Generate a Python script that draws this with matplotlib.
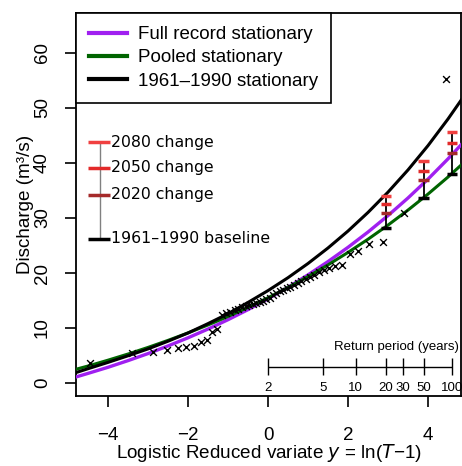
"""
Logistic growth curve plot: stationary fits, annual maxima and climate change bars.
"""
import matplotlib
matplotlib.use("Agg")
import matplotlib.pyplot as plt

# reduced variate grid used for the fitted curves
curve_y = [-4.8, -4.5, -4.0, -3.5, -3.0, -2.5, -2.0, -1.5, -1.0, -0.5, 0.0,
           0.5, 1.0, 1.5, 2.0, 2.5, 3.0, 3.5, 4.0, 4.5, 4.85]
full_record = [1.1, 1.75, 2.86, 4.07, 5.35, 6.74, 8.22, 9.81, 11.51, 13.34, 15.3,
               17.4, 19.66, 22.08, 24.67, 27.45, 30.44, 33.64, 37.07, 40.75, 43.49]
pooled = [2.5, 3.09, 4.15, 5.27, 6.47, 7.75, 9.11, 10.56, 12.1, 13.75, 15.5,
          17.37, 19.36, 21.48, 23.74, 26.14, 28.71, 31.44, 34.35, 37.45, 39.77]
baseline_6190 = [1.9, 2.6, 3.75, 4.95, 6.2, 7.6, 9.1, 10.8, 12.6, 14.65, 16.8,
                 19.15, 21.73, 24.55, 27.63, 31.01, 34.7, 38.74, 43.16, 48.0, 51.65]

# annual maxima (plotting position in reduced variate, discharge)
obs_y = [-4.44, -3.40, -2.88, -2.53, -2.26, -2.04, -1.85, -1.68, -1.53, -1.39,
         -1.27, -1.15, -1.04, -0.94, -0.835, -0.738, -0.645, -0.554, -0.465,
         -0.378, -0.293, -0.209, -0.125, -0.042, 0.042, 0.125, 0.209, 0.293,
         0.378, 0.465, 0.554, 0.645, 0.738, 0.835, 0.94, 1.04, 1.15, 1.27,
         1.39, 1.53, 1.68, 1.85, 2.04, 2.26, 2.53, 2.88, 3.40, 4.44]
obs_q = [3.6, 5.4, 5.7, 6.0, 6.3, 6.6, 6.8, 7.5, 7.9, 9.3,
         9.8, 12.4, 12.7, 13.0, 13.3, 13.5, 13.8, 14.0, 14.2,
         14.4, 14.6, 14.8, 15.0, 15.2, 15.5, 16.0, 16.4, 16.7,
         17.0, 17.2, 17.5, 17.8, 18.2, 18.6, 19.0, 19.3, 19.7, 20.1,
         20.5, 20.9, 21.2, 21.5, 23.5, 24.0, 25.2, 25.7, 31.0, 55.2]

# change bars at the 20, 50 and 100 year return periods
bar_y = [2.944, 3.892, 4.595]
bar_base = [28.2, 33.7, 38.0]
bar_2020 = [31.0, 36.9, 41.8]
bar_2050 = [32.5, 38.6, 43.7]
bar_2080 = [34.0, 40.4, 45.6]

# return period scale
rp_labels = ["2", "5", "10", "20", "30", "50", "100"]
rp_y = [0.0, 1.386, 2.197, 2.944, 3.367, 3.892, 4.595]

PURPLE = "#a020f0"
GREEN = "#006400"
C2080 = "#f04040"
C2050 = "#e32a2a"
C2020 = "#a52a2a"

fig = plt.figure(figsize=(4.62, 4.66), dpi=100)
ax = fig.add_axes([76 / 462, 1 - 396 / 466, 385 / 462, 383 / 466])

ax.plot(curve_y, full_record, color=PURPLE, lw=2.4, label="Full record stationary", zorder=3)
ax.plot(curve_y, pooled, color=GREEN, lw=2.2, label="Pooled stationary", zorder=3)
ax.plot(curve_y, baseline_6190, color="black", lw=2.2, label="1961\u20131990 stationary", zorder=3)
ax.scatter(obs_y, obs_q, marker="x", color="black", s=24, linewidths=1.0, zorder=4)

# change bars
cap = 0.13
for i in range(len(bar_y)):
    ax.vlines(bar_y[i], bar_base[i], bar_2080[i], color="black", lw=1.3, zorder=5)
    ax.hlines(bar_base[i], bar_y[i] - cap, bar_y[i] + cap, color="black", lw=2.5, zorder=6)
    ax.hlines(bar_2020[i], bar_y[i] - cap, bar_y[i] + cap, color=C2020, lw=2.5, zorder=6)
    ax.hlines(bar_2050[i], bar_y[i] - cap, bar_y[i] + cap, color=C2050, lw=2.5, zorder=6)
    ax.hlines(bar_2080[i], bar_y[i] - cap, bar_y[i] + cap, color=C2080, lw=2.5, zorder=6)

# key for the change bars
kx = -4.2
key_vals = [43.8, 39.1, 34.2, 26.2]
key_cols = [C2080, C2050, C2020, "black"]
key_text = ["2080 change", "2050 change", "2020 change", "1961\u20131990 baseline"]
ax.vlines(kx, key_vals[3], key_vals[0], color="grey", lw=1.0)
for v, c, t in zip(key_vals, key_cols, key_text):
    ax.hlines(v, kx - 0.3, kx + 0.25, color=c, lw=2.5)
    ax.text(kx + 0.27, v, t, fontsize=11.3, family="DejaVu Sans", va="center", ha="left")

# return period scale
rp_level = 2.96
ax.hlines(rp_level, rp_y[0], rp_y[-1], color="black", lw=1.0)
ax.vlines(rp_y, rp_level - 1.5, rp_level + 1.5, color="black", lw=1.0)
for v, t in zip(rp_y, rp_labels):
    ax.text(v, rp_level - 3.9, t, fontsize=9.5, ha="center", va="center", family="Liberation Sans")
ax.text(4.78, 6.5, "Return period (years)", fontsize=9.5, ha="right", va="center",
        family="Liberation Sans")

ax.set_xlim(-4.8, 4.825)
ax.set_ylim(-2.36, 67.27)
ax.set_xticks([-4, -2, 0, 2, 4])
ax.set_xticklabels(["\u22124", "\u22122", "0", "2", "4"])
ax.set_yticks([0, 10, 20, 30, 40, 50, 60])
ax.tick_params(length=8, width=1.2, labelsize=13.5)
ax.tick_params(axis="x", pad=14)
ax.tick_params(axis="y", pad=10)
for lab in ax.get_yticklabels():
    lab.set_rotation(90)
    lab.set_va("center")
for lab in ax.get_xticklabels() + ax.get_yticklabels():
    lab.set_family("Liberation Sans")
for s in ax.spines.values():
    s.set_linewidth(1.3)

ax.set_xlabel("Logistic Reduced variate $y$ = ln($T$\u22121)", fontsize=13.6,
              family="Liberation Sans", labelpad=-1)
ax.set_ylabel("Discharge (m\u00b3/s)", fontsize=13.6, family="Liberation Sans", labelpad=0)

leg = ax.legend(loc="upper left", frameon=True, fancybox=False,
                edgecolor="black", borderaxespad=0, handlelength=2.0, handletextpad=0.6,
                borderpad=0.7, labelspacing=0.32,
                prop={"family": "Liberation Sans", "size": 13.5})
leg.get_frame().set_linewidth(1.2)
leg.get_frame().set_alpha(1)
for ln in leg.get_lines():
    ln.set_linewidth(3)

fig.savefig("out.png", dpi=100)
